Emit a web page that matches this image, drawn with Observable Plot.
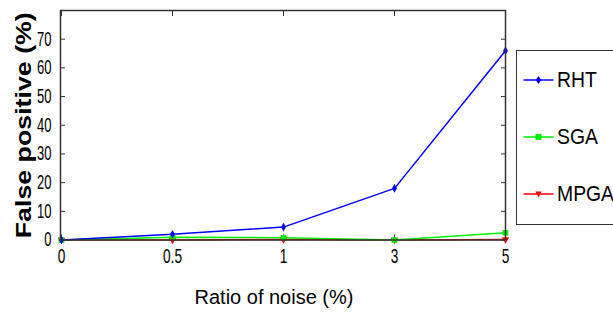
<!DOCTYPE html>
<html>
<head>
<meta charset="utf-8">
<script src="https://cdn.jsdelivr.net/npm/d3@7"></script>
<script src="https://cdn.jsdelivr.net/npm/@observablehq/plot@0.6"></script>
<style>
  html, body { margin: 0; padding: 0; background: #fff; }
  body { width: 613px; height: 320px; overflow: hidden; position: relative; }
  #chart { position: absolute; left: 0; top: 0; }
  #legend { position: absolute; left: 516px; top: 50px; width: 120px; height: 175px;
            border: 1.5px solid #333; background: #fff; box-sizing: border-box; }
  .item { position: absolute; left: 6px; height: 24px; display: flex; align-items: center;
          font-family: "Liberation Sans Narrow", "Liberation Sans", Arial, sans-serif; font-size: 22px; color: #000; }
  .item svg { margin-right: 3px; }
  .item span { display: inline-block; transform: scaleX(0.88); transform-origin: left center; }
</style>
</head>
<body>
<div id="chart"></div>
<div id="legend"></div>
<script>
// ---- data ----
const categories = ["0", "0.5", "1", "3", "5"];
const rht  = [0, 2, 4.5, 18, 66];
const sga  = [0, 1, 0.8, 0, 2.5];
const mpga = [0, 0, 0.2, 0, 0.2];
const yTicks = [0, 10, 20, 30, 40, 50, 60, 70];
const seriesNames = ["RHT", "SGA", "MPGA"];
const seriesColors = ["#0000ff", "#00ee00", "#ff0000"];
const yTitle = "False positive (%)";
const xTitle = "Ratio of noise (%)";

const rows = (vals, name) => categories.map((c, i) => ({x: c, y: vals[i], series: name}));
const dRHT = rows(rht, "RHT"), dSGA = rows(sga, "SGA"), dMPGA = rows(mpga, "MPGA");

const tickFont = "'Liberation Sans Narrow', 'Liberation Sans', Arial, sans-serif";

const plot = Plot.plot({
  width: 613,
  height: 320,
  marginLeft: 60,
  marginRight: 108,
  marginTop: 10,
  marginBottom: 80.5,
  style: {background: "transparent", overflow: "visible"},
  x: {type: "point", domain: categories, padding: 0},
  y: {domain: [0, 80]},
  marks: [
    Plot.axisY({anchor: "left", ticks: yTicks, tickSize: -5, tickPadding: 14, stroke: "#333",
      fontSize: 20, fontFamily: tickFont, label: null}),
    Plot.axisY({anchor: "right", ticks: yTicks, tickSize: -5, text: null, stroke: "#333", label: null}),
    Plot.axisX({anchor: "bottom", tickSize: -5, tickPadding: 13, stroke: "#333",
      fontSize: 21, fontFamily: tickFont, label: null}),
    Plot.axisX({anchor: "top", tickSize: -5, text: null, stroke: "#333", label: null}),
    Plot.line(dMPGA, {x: "x", y: "y", stroke: seriesColors[2], strokeWidth: 1.5}),
    Plot.line(dSGA, {x: "x", y: "y", stroke: seriesColors[1], strokeWidth: 1.5}),
    Plot.line(dRHT, {x: "x", y: "y", stroke: seriesColors[0], strokeWidth: 1.5}),
    Plot.dot(dMPGA, {x: "x", y: "y", symbol: "triangle", rotate: 180, r: 2.8, fill: seriesColors[2], stroke: "none"}),
    Plot.dot(dSGA, {x: "x", y: "y", symbol: "square", r: 3.2, fill: seriesColors[1], stroke: "none"}),
    Plot.dot(dRHT, {x: "x", y: "y", symbol: "diamond", r: 2.6, fill: seriesColors[0], stroke: "none"}),
    Plot.frame({stroke: "#333", strokeWidth: 1.5}),
    Plot.text([yTitle], {frameAnchor: "left", textAnchor: "middle", dx: -37, rotate: -90,
      fontSize: 22, fontWeight: "bold", fontFamily: "'Liberation Sans', Arial, sans-serif", fill: "#000"}),
    Plot.text([xTitle], {frameAnchor: "bottom", dx: -9, dy: 64,
      fontSize: 20, fontFamily: "'Liberation Sans', Arial, sans-serif", fill: "#000"})
  ]
});
document.getElementById("chart").appendChild(plot);

// compress tick labels horizontally like the reference
plot.querySelectorAll('[aria-label="y-axis tick label"] text, [aria-label="x-axis tick label"] text').forEach(t => {
  const w = t.getComputedTextLength();
  t.setAttribute("textLength", (w * 0.65).toFixed(1));
  t.setAttribute("lengthAdjust", "spacingAndGlyphs");
});
// stretch the y title along its length (reference is narrow and tall)
plot.querySelectorAll("text").forEach(t => {
  if (t.textContent === yTitle) {
    t.setAttribute("textLength", "226");
    t.setAttribute("lengthAdjust", "spacingAndGlyphs");
  }
});

// legend
const legend = document.getElementById("legend");
const symbolPaths = {
  RHT: "M0,-4 L2.8,0 L0,4 L-2.8,0 Z",
  SGA: "M-3,-3 L3,-3 L3,3 L-3,3 Z",
  MPGA: "M-3,-2.5 L3,-2.5 L0,3.5 Z"
};
const itemTops = [17, 74, 131];
seriesNames.forEach((name, i) => {
  const div = document.createElement("div");
  div.className = "item";
  div.style.top = itemTops[i] + "px";
  div.innerHTML = `<svg width="31" height="12" viewBox="-15.5 -6 31 12">
      <line x1="-15" x2="15" y1="0" y2="0" stroke="${seriesColors[i]}" stroke-width="1.5"/>
      <path d="${symbolPaths[name]}" fill="${seriesColors[i]}"/></svg><span>${name}</span>`;
  legend.appendChild(div);
});
</script>
</body>
</html>
